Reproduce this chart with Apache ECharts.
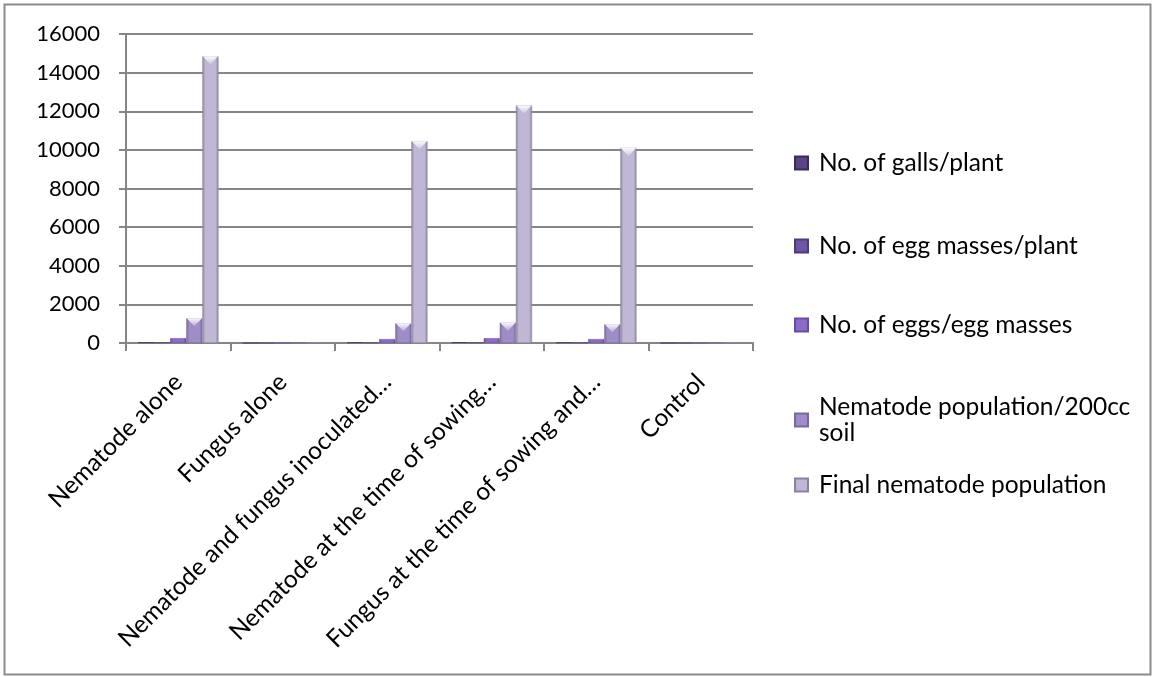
<!DOCTYPE html>
<html>
<head>
<meta charset="utf-8">
<script src="https://cdn.jsdelivr.net/npm/echarts@6/dist/echarts.min.js"></script>
<style>
  html, body { margin: 0; padding: 0; background: #fff; }
  #chart { width: 1155px; height: 677px; }
</style>
</head>
<body>
<div id="chart"></div>
<script>
// Treatments (as shown on the category axis)
const categories = [
  'Nematode alone',
  'Fungus alone',
  'Nematode and fungus inoculated…',
  'Nematode at the time of sowing…',
  'Fungus at the time of sowing and…',
  'Control'
];

// Measurements per treatment
const galls        = [40, 0, 35, 38, 30, 0];
const eggMasses    = [30, 0, 25, 28, 22, 0];
const eggs         = [250, 0, 200, 250, 200, 0];
const nemaPop200cc = [1280, 0, 1020, 1050, 970, 0];
const finalPop     = [14850, 0, 10450, 12300, 10100, 0];

const seriesNames = [
  'No. of galls/plant',
  'No. of egg masses/plant',
  'No. of eggs/egg masses',
  'Nematode population/200cc soil',
  'Final nematode population'
];
const legendTexts = [
  'No. of galls/plant',
  'No. of egg masses/plant',
  'No. of eggs/egg masses',
  'Nematode population/200cc\nsoil',
  'Final nematode population'
];

const yTicks = { min: 0, max: 16000, interval: 2000 };

// edge / centre colours for each bevelled bar
const palette = [
  ['#3b2a5c', '#5a4485'],
  ['#4e3880', '#6e55a6'],
  ['#6a4aa6', '#8c6cc8'],
  ['#7a66a0', '#a08cc6'],
  ['#8a829e', '#bfb7d3']
];

const CATEGORY_GAP = 0.23;

function bevel(c) {
  return new echarts.graphic.LinearGradient(0, 0, 1, 0, [
    { offset: 0, color: c[0] },
    { offset: 0.18, color: c[1] },
    { offset: 0.82, color: c[1] },
    { offset: 1, color: c[0] }
  ]);
}

const values = [galls, eggMasses, eggs, nemaPop200cc, finalPop];
const font = 'Lato, "Open Sans", sans-serif';

// points for the light bevel facet on top of each bar: [category, value, series]
const facetData = [];
values.forEach((arr, s) => arr.forEach((v, c) => { if (v > 0) facetData.push([c, v, s]); }));

function renderFacet(params, api) {
  const c = api.value(0), v = api.value(1), s = api.value(2);
  const band = api.size([1, 0])[0];
  const w = band * (1 - CATEGORY_GAP) / values.length;
  const base = api.coord([c, 0]);
  const top = api.coord([c, v]);
  const x0 = base[0] - band * (1 - CATEGORY_GAP) / 2 + w * s;
  const h = base[1] - top[1];
  if (h < 10) return;
  const th = Math.min(w / 2, h);
  return {
    type: 'polygon',
    shape: { points: [[x0 + 0.5, top[1]], [x0 + w - 0.5, top[1]], [x0 + w / 2, top[1] + th]] },
    style: {
      fill: new echarts.graphic.LinearGradient(0, 0, 0, 1, [
        { offset: 0, color: 'rgba(255,255,255,0.95)' },
        { offset: 1, color: 'rgba(255,255,255,0.25)' }
      ])
    },
    silent: true
  };
}

const chart = echarts.init(document.getElementById('chart'), null, { renderer: 'canvas' });

const legendTops = [145, 228, 307, 389, 467];

chart.setOption({
  backgroundColor: '#fff',
  animation: false,
  graphic: [{
    type: 'rect',
    shape: { x: 4.5, y: 4.5, width: 1146, height: 670 },
    style: { fill: 'none', stroke: '#8c8c8c', lineWidth: 2 },
    silent: true
  }],
  grid: { left: 126, right: 402, top: 34, bottom: 334 },
  legend: seriesNames.map((n, i) => ({
    data: [{ name: n, icon: 'rect' }],
    orient: 'vertical',
    left: 789,
    top: legendTops[i],
    itemWidth: 13,
    itemHeight: 13,
    itemGap: 0,
    formatter: () => legendTexts[i],
    textStyle: { fontFamily: font, fontSize: 24.5, color: '#000', lineHeight: 26, padding: [0, 0, 0, 6] },
    selectedMode: false
  })),
  xAxis: {
    type: 'category',
    data: categories,
    boundaryGap: true,
    axisLine: { lineStyle: { color: '#868686', width: 2 } },
    axisTick: { show: true, length: 8, lineStyle: { color: '#868686', width: 2 } },
    axisLabel: {
      rotate: 45,
      interval: 0,
      margin: 35,
      fontFamily: font,
      fontSize: 24.5,
      color: '#000'
    }
  },
  yAxis: {
    type: 'value',
    min: yTicks.min,
    max: yTicks.max,
    interval: yTicks.interval,
    axisLine: { show: true, lineStyle: { color: '#868686', width: 2 } },
    axisTick: { show: true, length: 7, lineStyle: { color: '#868686', width: 2 } },
    splitLine: { lineStyle: { color: '#868686', width: 2 } },
    axisLabel: { margin: 26, fontFamily: font, fontSize: 22, color: '#000', formatter: v => String(v) }
  },
  series: seriesNames.map((n, i) => ({
    name: n,
    type: 'bar',
    data: values[i],
    barGap: '0%',
    barCategoryGap: (CATEGORY_GAP * 100) + '%',
    itemStyle: {
      color: bevel(palette[i]),
      borderColor: palette[i][0],
      borderWidth: 0.5
    }
  })).concat([{
    type: 'custom',
    name: 'facets',
    data: facetData,
    renderItem: renderFacet,
    encode: { x: 0, y: 1 },
    z: 5,
    silent: true,
    tooltip: { show: false }
  }])
});
</script>
</body>
</html>
